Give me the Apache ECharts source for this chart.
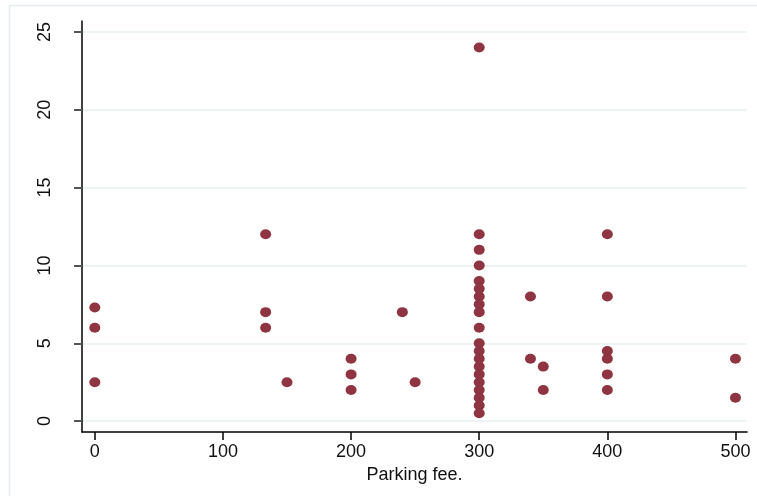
<!DOCTYPE html>
<html>
<head>
<meta charset="utf-8">
<script src="https://cdn.jsdelivr.net/npm/echarts@6/dist/echarts.min.js"></script>
<style>
  html, body { margin: 0; padding: 0; background: #fff; }
  #chart { width: 757px; height: 496px; }
</style>
</head>
<body>
<div id="chart"></div>
<script>
// Parking fee (x) against the observed value (y), one entry per observation
const parkingFee = [
  0, 0, 0,
  133.33, 133.33, 133.33,
  150,
  200, 200, 200,
  240,
  250,
  300, 300, 300, 300, 300, 300, 300, 300, 300, 300,
  300, 300, 300, 300, 300, 300, 300, 300, 300, 300,
  340, 340,
  350, 350,
  400, 400, 400, 400, 400, 400,
  500, 500
];
const outcome = [
  7.3, 6, 2.5,
  12, 7, 6,
  2.5,
  4, 3, 2,
  7,
  2.5,
  24, 12, 11, 10, 9, 8.5, 8, 7.5, 7, 6,
  5, 4.5, 4, 3.5, 3, 2.5, 2, 1.5, 1, 0.5,
  8, 4,
  3.5, 2,
  12, 8, 4.5, 4, 3, 2,
  4, 1.5
];

const xTicks = [0, 100, 200, 300, 400, 500];
const yTicks = [0, 5, 10, 15, 20, 25];
const xTitle = 'Parking fee.';

const points = parkingFee.map((x, i) => [x, outcome[i]]);

const FONT = '"Liberation Sans", Arial, sans-serif';
const chart = echarts.init(document.getElementById('chart'), null, { renderer: 'canvas' });

chart.setOption({
  animation: false,
  backgroundColor: '#ffffff',
  graphic: [{
    type: 'rect',
    left: 7, top: 3,
    shape: { width: 760, height: 500 },
    style: { fill: 'none', stroke: '#e6ebee', lineWidth: 1.5 },
    z: -1
  }],
  grid: { left: 82, right: 10, top: 21, bottom: 64, containLabel: false },
  xAxis: {
    type: 'value',
    min: -10,
    max: 509,
    name: xTitle,
    nameLocation: 'middle',
    nameGap: 24,
    nameTextStyle: { fontFamily: FONT, fontSize: 18, color: '#111' },
    axisLine: { show: true, onZero: false, lineStyle: { color: '#000', width: 1.5 } },
    axisTick: { show: true, length: 8, customValues: xTicks, lineStyle: { color: '#000', width: 1.5 } },
    axisLabel: { customValues: xTicks, margin: 11, fontFamily: FONT, fontSize: 18, color: '#111' },
    splitLine: { show: false }
  },
  yAxis: {
    type: 'value',
    min: -0.7,
    max: 25.7,
    axisLine: { show: true, onZero: false, lineStyle: { color: '#000', width: 1.5 } },
    axisTick: { show: true, length: 8, customValues: yTicks, lineStyle: { color: '#555', width: 2 } },
    axisLabel: { customValues: yTicks, rotate: 90, margin: 28, fontFamily: FONT, fontSize: 18, color: '#111' },
    splitLine: { show: true, lineStyle: { color: '#e8eff1', width: 1.5 } }
  },
  series: [{
    type: 'scatter',
    data: points,
    symbol: 'circle',
    symbolSize: [11, 10],
    itemStyle: { color: '#8f3441', opacity: 1 },
    emphasis: { disabled: true }
  }]
});
</script>
</body>
</html>
